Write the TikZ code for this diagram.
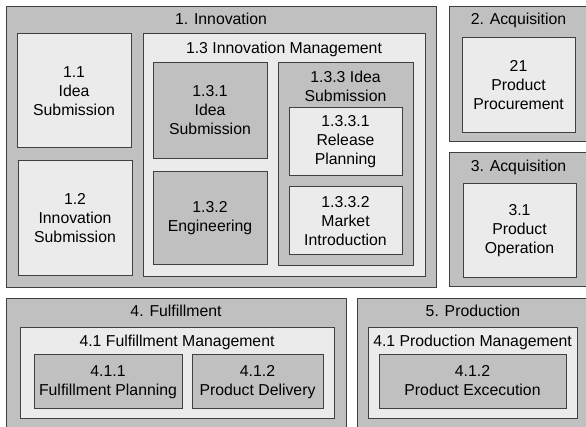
\documentclass[tikz,border=0pt]{standalone}
\usepackage{fontspec}
\setmainfont{Liberation Sans}
\usepackage{xcolor}
\usepackage{tikz}

\definecolor{grisbox}{RGB}{192,192,192}
\definecolor{grisclaro}{RGB}{235,235,235}
\definecolor{borde}{RGB}{64,64,64}

\tikzset{
  caja/.style={draw=borde, line width=1pt, fill=grisbox},
  cajaclara/.style={draw=borde, line width=1pt, fill=grisclaro},
  texto/.style={align=center, font=\fontsize{15.8}{19}\selectfont, inner sep=0pt},
  titulo/.style={texto, anchor=base}
}

\begin{document}
\begin{tikzpicture}[x=1pt,y=-1pt]

% Marco de la figura
\useasboundingbox (0,0) rectangle (586,427);
\fill[white] (0,0) rectangle (586,427);
\clip (0,0) rectangle (586,427);

% 1. Innovation
\draw[caja] (6,7) rectangle (436,288);  % Cuadro exterior
\node[titulo] (innovacion) at (221,25) {1. Innovation};

\draw[cajaclara] (17,34) rectangle (131,148);
\node[texto] (ideasub) at (74,91) {1.1\\Idea\\Submission};

\draw[cajaclara] (18,161) rectangle (132,276);
\node[texto] (innosub) at (75,218.5) {1.2\\Innovation\\Submission};

\draw[cajaclara] (143,34) rectangle (425,277);  % Innovation Management
\node[titulo] (gestion) at (284,54) {1.3 Innovation Management};

\draw[caja] (153,63) rectangle (267,159);
\node[texto] (ideasubdos) at (210,110) {1.3.1\\Idea\\Submission};

\draw[caja] (153,172) rectangle (267,265);
\node[texto] (ingenieria) at (210,218) {1.3.2\\Engineering};

\draw[caja] (278,63) rectangle (413,266);
\node[texto] (ideasubtres) at (345.5,86) {1.3.3 Idea\\Submission};

\draw[cajaclara] (289,108) rectangle (402,176);
\node[texto] (lanzamiento) at (345.5,142) {1.3.3.1\\Release\\Planning};

\draw[cajaclara] (289,187) rectangle (402,255);
\node[texto] (mercado) at (345.5,221) {1.3.3.2\\Market\\Introduction};

% 2. Acquisition
\draw[caja] (449,7) rectangle (590,142);
\node[titulo] (adquisicion) at (518.5,25) {2. Acquisition};

\draw[cajaclara] (462,38) rectangle (575,133);
\node[texto] (compras) at (518.5,85) {21\\Product\\Procurement};

% 3. Acquisition
\draw[caja] (449,153) rectangle (590,287);
\node[titulo] (adquisiciondos) at (518.5,172) {3. Acquisition};

\draw[cajaclara] (463,184) rectangle (576,278);
\node[texto] (operacion) at (519.5,231) {3.1\\Product\\Operation};

% 4. Fulfillment
\draw[caja] (6,299) rectangle (346,440);
\node[titulo] (cumplimiento) at (176,317) {4. Fulfillment};

\draw[cajaclara] (20,328) rectangle (334,418);
\node[titulo] (gestioncump) at (177,346) {4.1 Fulfillment Management};

\draw[caja] (34,355) rectangle (182,408);
\node[texto] (planificacion) at (108,382) {4.1.1\\Fulfillment Planning};

\draw[caja] (192,355) rectangle (323,408);
\node[texto] (entrega) at (257.5,382) {4.1.2\\Product Delivery};

% 5. Production
\draw[caja] (357,299) rectangle (590,440);
\node[titulo] (produccion) at (473,317) {5. Production};

\draw[cajaclara] (368,328) rectangle (577,418);
\node[titulo] (gestionprod) at (472.5,346) {4.1 Production Management};

\draw[caja] (379,355) rectangle (566,408);
\node[texto] (ejecucion) at (472.5,380.5) {4.1.2\\Product Excecution};

\end{tikzpicture}
\end{document}
